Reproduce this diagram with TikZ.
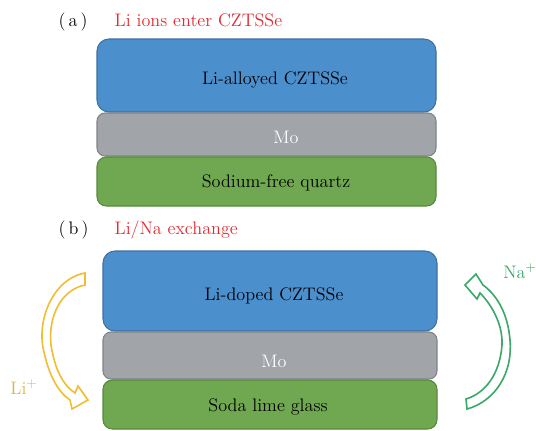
\documentclass[tikz,border=0pt]{standalone}
\usetikzlibrary{fit}
\definecolor{czblue}{RGB}{75,143,205}
\definecolor{czblueline}{RGB}{62,112,160}
\definecolor{mogray}{RGB}{161,164,168}
\definecolor{mograyline}{RGB}{128,131,135}
\definecolor{glassgreen}{RGB}{111,168,80}
\definecolor{glassgreenline}{RGB}{88,138,62}
\definecolor{titlered}{RGB}{226,42,48}
\definecolor{liyellow}{RGB}{240,190,50}
\definecolor{lilabel}{RGB}{214,184,72}
\definecolor{nagreen}{RGB}{58,168,104}
\tikzset{
  layer/.style={rectangle, inner sep=0pt, line width=0.8pt},
  absorber/.style={layer, fill=czblue, draw=czblueline, rounded corners=9pt},
  contact/.style={layer, fill=mogray, draw=mograyline, rounded corners=6pt},
  substrate/.style={layer, fill=glassgreen, draw=glassgreenline, rounded corners=7pt},
  layertext/.style={font=\fontsize{13.6}{16}\selectfont, text=black},
  motext/.style={font=\fontsize{13.6}{16}\selectfont, text=white},
  paneltag/.style={font=\fontsize{13.6}{16}\selectfont, anchor=base west},
  paneltitle/.style={font=\fontsize{13.6}{16}\selectfont, text=titlered, anchor=base west},
  ionarrow/.style={line width=1.2pt, fill=white, line join=miter},
}
\begin{document}
\begin{tikzpicture}[x=0.75pt,y=-0.75pt]
\useasboundingbox (0,0) rectangle (536,430);
\fill[white] (0,0) rectangle (536,430);

% ---- panel (a): quartz substrate ----
\node[paneltag] (taga) at (54,26) {(\,a\,)};
\node[paneltitle] (titlea) at (110,26) {Li ions enter CZTSSe};
\node[absorber, fit={(97,39) (436,112)}] (absa) {};
\node[contact, fit={(97,113) (436,156)}] (moa) {};
\node[substrate, fit={(97,157) (436,206)}] (suba) {};
\node[layertext] (absatext) at (275,80) {Li-alloyed CZTSSe};
\node[motext] (moatext) at (286,137) {Mo};
\node[layertext] (subatext) at (276,183) {Sodium-free quartz};

% ---- panel (b): soda lime glass ----
\node[paneltag] (tagb) at (54,234) {(\,b\,)};
\node[paneltitle] (titleb) at (110,234) {Li/Na exchange};
\node[absorber, fit={(103,251) (437,331)}] (absb) {};
\node[contact, fit={(103,332) (437,379)}] (mob) {};
\node[substrate, fit={(103,380) (437,429)}] (subb) {};
\node[layertext] (absbtext) at (274,296) {Li-doped CZTSSe};
\node[motext] (mobtext) at (274,361) {Mo};
\node[layertext] (subbtext) at (268,407) {Soda lime glass};

% Li+ moving down from the absorber into the glass
\draw[ionarrow, draw=liyellow]
  (85,273) .. controls (52,279) and (36,322) .. (44,352)
  .. controls (49,375) and (58,392) .. (70,400)
  -- (72,409) -- (88,400) -- (78,386) -- (75,393)
  .. controls (63,385) and (55,370) .. (51,345)
  .. controls (48,318) and (60,290) .. (85,285) -- cycle;
\node[font=\fontsize{13.6}{16}\selectfont, text=lilabel] (liion) at (24,387) {Li$^{+}$};

% Na+ moving up from the glass into the absorber
\draw[ionarrow, draw=nagreen]
  (467,409) .. controls (496,401) and (513,372) .. (510,340)
  .. controls (508,315) and (498,296) .. (483,285)
  -- (476,274) -- (465,285) -- (477,299) -- (480,293)
  .. controls (492,305) and (503,325) .. (502,345)
  .. controls (500,373) and (486,393) .. (466,399) -- cycle;
\node[font=\fontsize{13.6}{16}\selectfont, text=nagreen] (naion) at (520,271) {Na$^{+}$};
\end{tikzpicture}
\end{document}
